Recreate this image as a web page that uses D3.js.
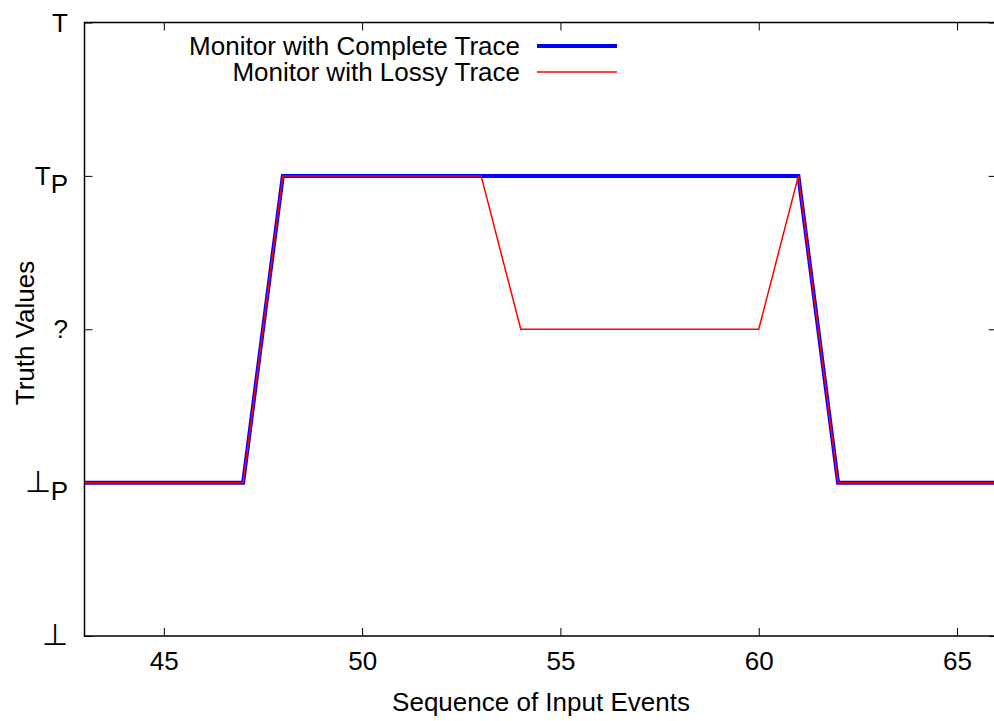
<!DOCTYPE html>
<html>
<head>
<meta charset="utf-8">
<script src="https://cdn.jsdelivr.net/npm/d3@7"></script>
<style>
  html, body { margin: 0; padding: 0; background: #fff; }
  svg { display: block; }
  text { font-family: "Liberation Sans", Arial, Helvetica, sans-serif; fill: #000; }
</style>
</head>
<body>
<svg id="chart" width="994" height="721"></svg>
<script>
// Sequence of input events (x) and truth value levels (0 = ⊥ … 4 = T)
const events = [43, 44, 45, 46, 47, 48, 49, 50, 51, 52, 53, 54, 55, 56, 57, 58, 59, 60, 61, 62, 63, 64, 65, 66];
const completeTrace = [1, 1, 1, 1, 1, 3, 3, 3, 3, 3, 3, 3, 3, 3, 3, 3, 3, 3, 3, 1, 1, 1, 1, 1];
const lossyTrace    = [1, 1, 1, 1, 1, 3, 3, 3, 3, 3, 3, 2, 2, 2, 2, 2, 2, 2, 3, 1, 1, 1, 1, 1];
const xTicks = [45, 50, 55, 60, 65];
const yTickValues = [0, 1, 2, 3, 4];
const yTickLabels = [
  { main: "\u22A5", sub: "" },
  { main: "\u22A5", sub: "P" },
  { main: "?", sub: "" },
  { main: "T", sub: "P" },
  { main: "T", sub: "" }
];
const seriesNames = ["Monitor with Complete Trace", "Monitor with Lossy Trace"];

const svg = d3.select("#chart");
const plotLeft = 84.5, plotRight = 996.7, plotTop = 22.5, plotBottom = 636;
const fontSize = 26;

const x = d3.scaleLinear().domain([43, 66]).range([plotLeft, plotRight]);
const y = d3.scaleLinear().domain([0, 4]).range([plotBottom, plotTop]);

svg.append("defs").append("clipPath").attr("id", "plotClip")
  .append("rect").attr("x", plotLeft).attr("y", plotTop)
  .attr("width", plotRight - plotLeft).attr("height", plotBottom - plotTop);

// Axes: ticks point inward, mirrored on the opposite sides
const tickLen = 8;
const gx = svg.append("g").attr("transform", `translate(0,${plotBottom})`)
  .call(d3.axisBottom(x).tickValues(xTicks).tickSize(-tickLen).tickPadding(16).tickFormat(d3.format("d")));
const gxTop = svg.append("g").attr("transform", `translate(0,${plotTop})`)
  .call(d3.axisTop(x).tickValues(xTicks).tickSize(-tickLen).tickFormat(""));
const gy = svg.append("g").attr("transform", `translate(${plotLeft},0)`)
  .call(d3.axisLeft(y).tickValues(yTickValues).tickSize(-tickLen).tickFormat(""));
const gyRight = svg.append("g").attr("transform", `translate(${plotRight},0)`)
  .call(d3.axisRight(y).tickValues(yTickValues).tickSize(-tickLen).tickFormat(""));

[gx, gxTop, gy, gyRight].forEach(g => {
  g.select(".domain").remove();
  g.selectAll(".tick line").attr("stroke", "#000").attr("stroke-width", 1);
});
gx.selectAll(".tick text").attr("font-size", fontSize)
  .attr("font-family", "Liberation Sans, Arial, sans-serif").attr("fill", "#000");

// Y tick labels with subscripts
const yLab = svg.append("g");
yTickValues.forEach((v, i) => {
  const lab = yTickLabels[i];
  const t = yLab.append("text")
    .attr("x", 68)
    .attr("y", y(v))
    .attr("dy", "0.35em")
    .attr("text-anchor", "end")
    .attr("font-size", fontSize);
  t.append("tspan").attr("font-size", lab.main === "\u22A5" ? 30 : fontSize).text(lab.main);
  if (lab.sub) {
    t.append("tspan").attr("dy", "0.3em").attr("font-size", fontSize).text(lab.sub);
  }
});

// Plot frame
svg.append("rect")
  .attr("x", plotLeft).attr("y", plotTop)
  .attr("width", plotRight - plotLeft).attr("height", plotBottom - plotTop)
  .attr("fill", "none").attr("stroke", "#000").attr("stroke-width", 1.5);

// Series lines
const line = d3.line().x(d => x(d[0])).y(d => y(d[1]));
const plot = svg.append("g").attr("clip-path", "url(#plotClip)");
plot.append("path")
  .datum(events.map((e, i) => [e, completeTrace[i]]))
  .attr("d", line).attr("fill", "none")
  .attr("stroke", "#0000ff").attr("stroke-width", 4).attr("stroke-linejoin", "miter");
plot.append("path")
  .datum(events.map((e, i) => [e, lossyTrace[i]]))
  .attr("d", line).attr("fill", "none")
  .attr("stroke", "#ff0000").attr("stroke-width", 1.5).attr("stroke-linejoin", "miter");

// Legend
const legend = svg.append("g");
const legendRows = [
  { name: seriesNames[0], color: "#0000ff", width: 4, y: 46 },
  { name: seriesNames[1], color: "#ff0000", width: 1.5, y: 72 }
];
legendRows.forEach(r => {
  legend.append("text").attr("x", 520).attr("y", r.y).attr("dy", "0.35em")
    .attr("text-anchor", "end").attr("font-size", fontSize).text(r.name);
  legend.append("line").attr("x1", 537).attr("x2", 617).attr("y1", r.y).attr("y2", r.y)
    .attr("stroke", r.color).attr("stroke-width", r.width);
});

// Axis titles
svg.append("text").attr("x", 541).attr("y", 702).attr("dy", "0.35em")
  .attr("text-anchor", "middle").attr("font-size", fontSize).text("Sequence of Input Events");
svg.append("text").attr("transform", "translate(25,333) rotate(-90)").attr("dy", "0.35em")
  .attr("text-anchor", "middle").attr("font-size", fontSize).text("Truth Values");
</script>
</body>
</html>
